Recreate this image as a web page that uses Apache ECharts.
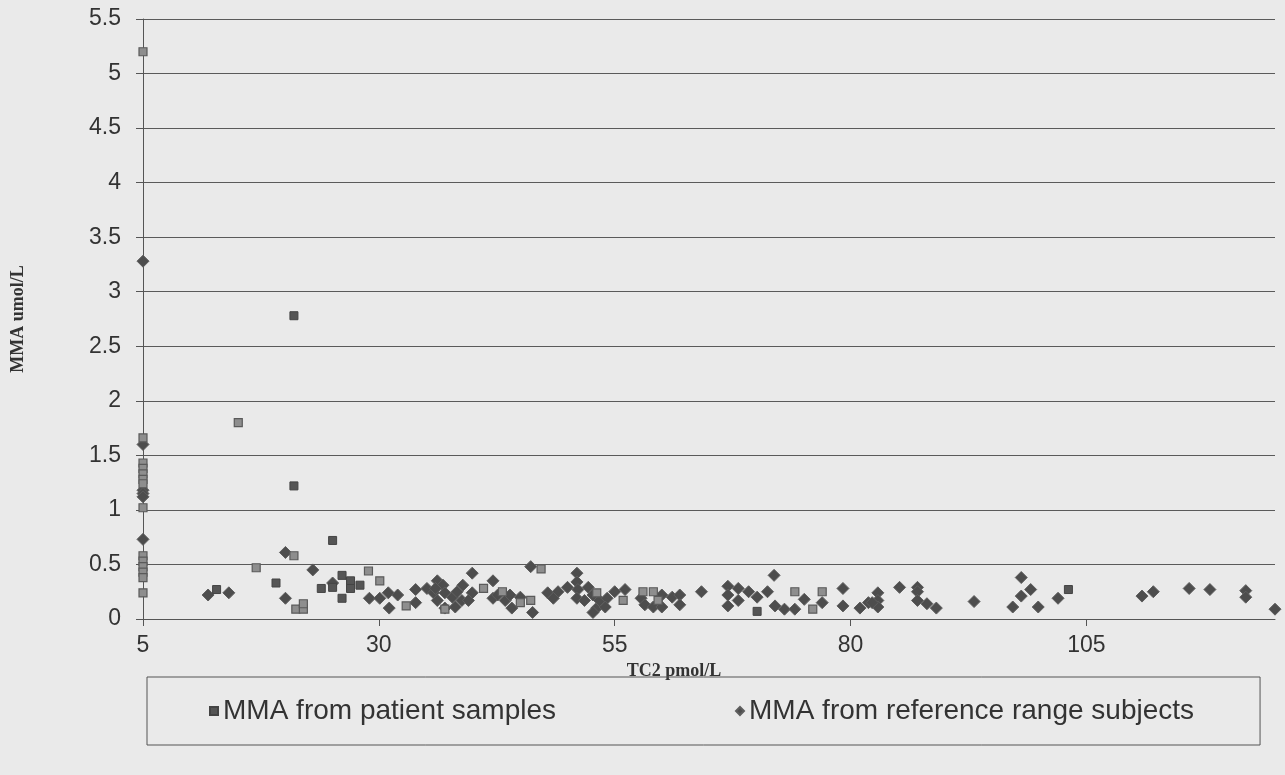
<!DOCTYPE html>
<html>
<head>
<meta charset="utf-8">
<script src="https://cdn.jsdelivr.net/npm/echarts@6/dist/echarts.min.js"></script>
<style>
html,body{margin:0;padding:0;background:#eaeaea;}
#c{width:1285px;height:775px;}
</style>
</head>
<body>
<div id="c"></div>
<script>
// x tick labels
const xTicks = [5, 30, 55, 80, 105];
// MMA from patient samples (dark squares)
const patientDark = [
  [21,2.78],[21,1.22],[25.1,0.72],[12.8,0.27],[19.1,0.33],[23.9,0.28],
  [26.1,0.40],[25.1,0.29],[27,0.35],[27,0.28],[28,0.31],[26.1,0.19],
  [70.1,0.07],[103.1,0.27]
];
// MMA from patient samples (lighter squares)
const patientLight = [
  [5,5.2],[5,1.66],[5,1.43],[5,1.38],[5,1.33],[5,1.28],[5,1.24],[5,1.02],
  [5,0.58],[5,0.53],[5,0.48],[5,0.43],[5,0.38],[5,0.24],
  [15.1,1.80],[17,0.47],[21,0.58],[21.2,0.09],[22,0.09],[22,0.14],
  [28.9,0.44],[30.1,0.35],[32.9,0.12],[37,0.09],[41.1,0.28],[43.1,0.25],
  [45,0.15],[46.1,0.17],[47.2,0.46],[53.1,0.24],[55.9,0.17],[58,0.25],
  [59.1,0.25],[59.6,0.17],[74.1,0.25],[76,0.09],[77,0.25]
];
// MMA from reference range subjects (diamonds)
const referenceSubjects = [
  [5,3.28],[5,1.60],[5,1.18],[5,1.15],[5,1.12],[5,0.73],
  [11.9,0.22],[14.1,0.24],[20.1,0.61],[20.1,0.19],[23,0.45],[25.1,0.33],[29,0.19],[30.1,0.19],
  [31,0.24],[32,0.22],[31.1,0.10],[33.9,0.27],[33.9,0.15],[35.1,0.28],[35.8,0.24],[36.2,0.35],
  [36.8,0.31],[36.2,0.17],[37,0.10],[37.8,0.20],[38.3,0.25],[38.9,0.31],[38.8,0.17],[38.1,0.11],
  [39.9,0.42],[39.9,0.24],[39.5,0.17],[37,0.24],[36,0.28],
  [42.1,0.35],[42.1,0.19],[42.6,0.22],[43.4,0.17],[43.9,0.22],[44.1,0.10],[45,0.20],[46.3,0.06],
  [46.1,0.48],[47.9,0.24],[49,0.25],[48.5,0.19],[50,0.29],[51,0.42],[51,0.34],[51.1,0.27],[51,0.19],
  [52.2,0.29],[51.8,0.17],[52.7,0.22],[53.1,0.10],[53.4,0.17],[54.2,0.19],[54,0.11],[55,0.25],
  [56.1,0.27],[52.7,0.06],
  [57.8,0.19],[58.2,0.13],[59.1,0.11],[60,0.22],[60,0.11],[61.1,0.20],[61.9,0.22],[61.9,0.13],[64.2,0.25],
  [67,0.30],[67,0.22],[67,0.12],[68.1,0.28],[68.1,0.17],[69.2,0.25],[70.1,0.20],[71.2,0.25],[71.9,0.40],
  [72,0.12],[73,0.09],[74.1,0.09],[75.1,0.18],[77,0.15],[79.2,0.28],[79.2,0.12],[81,0.10],[81.9,0.15],
  [82.9,0.24],[82.9,0.17],[82.9,0.11],[82.3,0.15],
  [85.2,0.29],[87.1,0.29],[87.1,0.25],[87.1,0.17],[88.1,0.14],[89.1,0.10],[93.1,0.16],[98.1,0.38],
  [98.1,0.21],[99.1,0.27],[97.2,0.11],[99.9,0.11],[102,0.19],
  [110.9,0.21],[112.1,0.25],[115.9,0.28],[118.1,0.27],[121.9,0.26],[121.9,0.20],[125,0.09]
];
const seriesNames = ['MMA from patient samples', 'MMA from reference range subjects'];

const chart = echarts.init(document.getElementById('c'), null, {renderer: 'canvas'});
const axisColor = '#555';
chart.setOption({
  backgroundColor: '#eaeaea',
  animation: false,
  grid: {left: 143, right: 10, top: 19, bottom: 156, containLabel: false},
  xAxis: {
    type: 'value', min: 5, max: 125,
    name: 'TC2 pmol/L', nameLocation: 'middle', nameGap: 37,
    nameTextStyle: {fontFamily: 'Liberation Serif', fontWeight: 'bold', fontSize: 18, color: '#333', padding: [0, 70, 0, 0]},
    axisLine: {onZero: false, lineStyle: {color: axisColor, width: 1}},
    axisTick: {show: true, length: 7, customValues: xTicks, lineStyle: {color: axisColor}},
    axisLabel: {customValues: xTicks, fontFamily: 'Liberation Sans', fontSize: 23, color: '#333', margin: 15},
    splitLine: {show: false}
  },
  yAxis: {
    type: 'value', min: 0, max: 5.5, interval: 0.5,
    name: 'MMA umol/L', nameLocation: 'middle', nameGap: 116, nameRotate: 90,
    nameTextStyle: {fontFamily: 'Liberation Serif', fontWeight: 'bold', fontSize: 18, color: '#333'},
    axisLine: {show: true, lineStyle: {color: axisColor, width: 1}},
    axisTick: {show: true, length: 7, lineStyle: {color: axisColor}},
    axisLabel: {fontFamily: 'Liberation Sans', fontSize: 23, color: '#333', margin: 22},
    splitLine: {show: true, lineStyle: {color: '#5a5a5a', width: 1}}
  },
  legend: {
    left: 147, top: 677,
    data: [
      {name: seriesNames[0], icon: 'rect'},
      {name: seriesNames[1], icon: 'diamond'}
    ],
    itemWidth: 8, itemHeight: 8, itemGap: 179,
    padding: [20, 66, 20, 62],
    borderColor: '#555', borderWidth: 1,
    textStyle: {fontFamily: 'Liberation Sans', fontSize: 28, color: '#333'}
  },
  series: [
    {
      name: seriesNames[0], type: 'scatter', symbol: 'rect', symbolSize: 8,
      itemStyle: {color: '#555', borderColor: '#444', borderWidth: 1, opacity: 1},
      data: patientDark, z: 3
    },
    {
      name: seriesNames[0], type: 'scatter', symbol: 'rect', symbolSize: 8,
      itemStyle: {color: '#8e8e8e', borderColor: '#5a5a5a', borderWidth: 1.2, opacity: 1},
      data: patientLight, z: 3
    },
    {
      name: seriesNames[1], type: 'scatter', symbol: 'diamond', symbolSize: 12,
      itemStyle: {color: '#4d4d4d', borderColor: '#5e5e5e', borderWidth: 1, opacity: 1},
      data: referenceSubjects, z: 2
    }
  ]
});
</script>
</body>
</html>
